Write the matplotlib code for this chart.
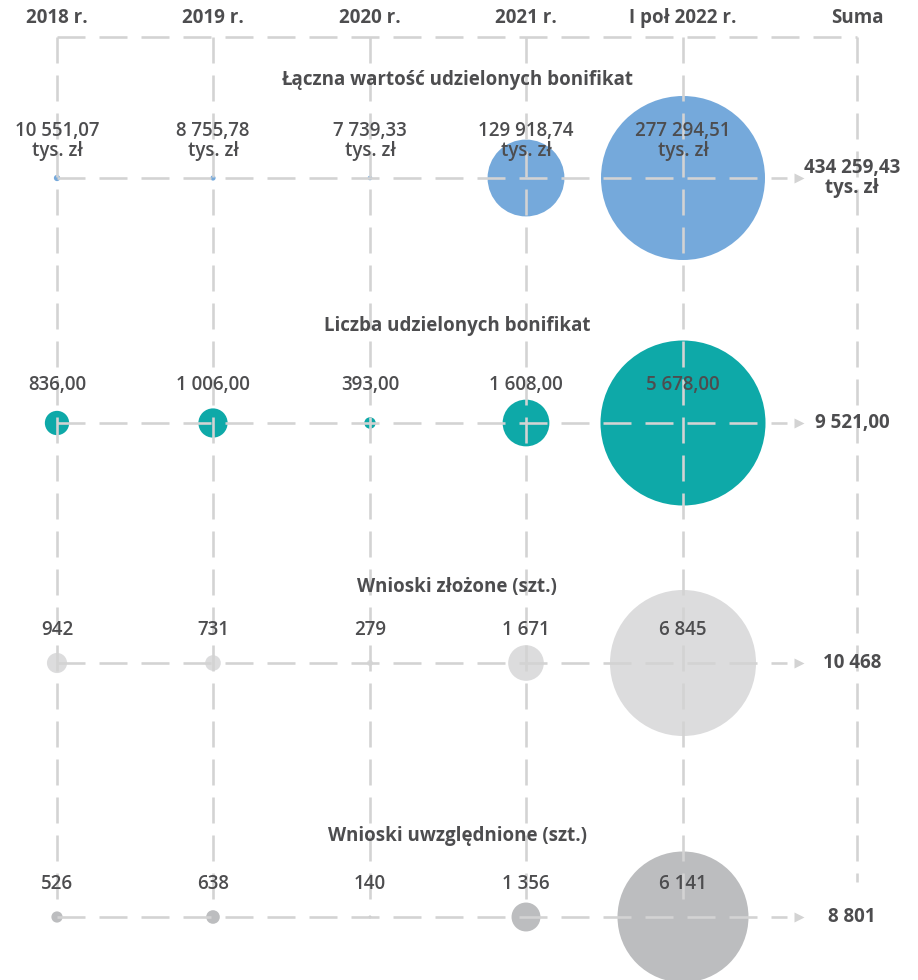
import matplotlib
matplotlib.use("Agg")
import matplotlib.pyplot as plt
from matplotlib.patches import Circle

plt.rcParams['font.family'] = ['Open Sans', 'DejaVu Sans']
plt.rcParams['lines.scale_dashes'] = False

# --- data ---
columns = ["2018 r.", "2019 r.", "2020 r.", "2021 r.", "I poł 2022 r."]
sum_header = "Suma"
row_titles = ["Łączna wartość udzielonych bonifikat",
              "Liczba udzielonych bonifikat",
              "Wnioski złożone (szt.)",
              "Wnioski uwzględnione (szt.)"]
wartosc = [10551.07, 8755.78, 7739.33, 129918.74, 277294.51]   # tys. zł
liczba = [836, 1006, 393, 1608, 5678]
zlozone = [942, 731, 279, 1671, 6845]
uwzglednione = [526, 638, 140, 1356, 6141]
rows = [wartosc, liczba, zlozone, uwzglednione]
decimals = [2, 2, 0, 0]
units = ["tys. zł", "", "", ""]

# --- style / layout (pixels) ---
colors = ["#75a9db", "#0ea9a8", "#dcdcdd", "#bcbdbf"]
col_x = [57, 213, 370, 526, 683]
sum_x = 857
row_y = [178, 423, 663, 917]
px_per_unit = [82 / 277294.51, 82.5 / 5678, 73 / 6845, 73 / 6845]
label_off = [37, 38, 33, 33]
title_off = [98, 97, 76, 81]
TXT = "#4d4d4f"
LINE = "#d3d3d3"
FS = 13.5


def fmt(v, d):
    s = f"{v:,.{d}f}"
    return s.replace(",", " ").replace(".", ",")


fig = plt.figure(figsize=(9.18, 9.8), dpi=100)
ax = fig.add_axes([0, 0, 1, 1])
ax.set_xlim(0, 918)
ax.set_ylim(980, 0)
ax.axis("off")

lw = 2.6 * 72 / 100
hdash = (28 * 0.72, 14 * 0.72)
vdash = (26 * 0.72, 12 * 0.72)

# frame top and verticals
ax.plot([col_x[0], sum_x], [37, 37], color=LINE, lw=lw, dashes=hdash, zorder=2)
for x in col_x:
    ax.plot([x, x], [37, row_y[-1] - 12], color=LINE, lw=lw, dashes=vdash, zorder=2)
ax.plot([sum_x, sum_x], [37, 882], color=LINE, lw=lw, dashes=vdash, zorder=2)

# headers
for x, c in zip(col_x + [sum_x], columns + [sum_header]):
    ax.text(x, 18, c, ha="center", va="center", fontsize=FS,
            fontweight="bold", color=TXT, zorder=5)

for i, vals in enumerate(rows):
    y = row_y[i]
    ax.text(457, y - title_off[i], row_titles[i], ha="center", va="center",
            fontsize=FS, fontweight="bold", color=TXT, zorder=5)
    for x, v in zip(col_x, vals):
        ax.add_patch(Circle((x, y), v * px_per_unit[i], color=colors[i],
                            lw=0, zorder=1))
        lab = fmt(v, decimals[i])
        if units[i]:
            lab += "\n" + units[i]
        ax.text(x, y - label_off[i], lab, ha="center", va="center",
                fontsize=FS, fontweight="semibold", color=TXT,
                linespacing=0.95, zorder=5)
    # row line with arrow
    ax.plot([col_x[0], 787], [y, y], color=LINE, lw=lw, dashes=hdash, zorder=3)
    ax.plot([799], [y], marker=">", ms=7, color=LINE, mec="none", zorder=3)
    total = sum(vals)
    lab = fmt(total, decimals[i])
    if units[i]:
        lab += "\n" + units[i]
    ax.text(sum_x - 5, y, lab, ha="center", va="center", fontsize=FS,
            fontweight="bold", color=TXT, linespacing=0.95, zorder=5)

fig.savefig("out.png", dpi=100)
